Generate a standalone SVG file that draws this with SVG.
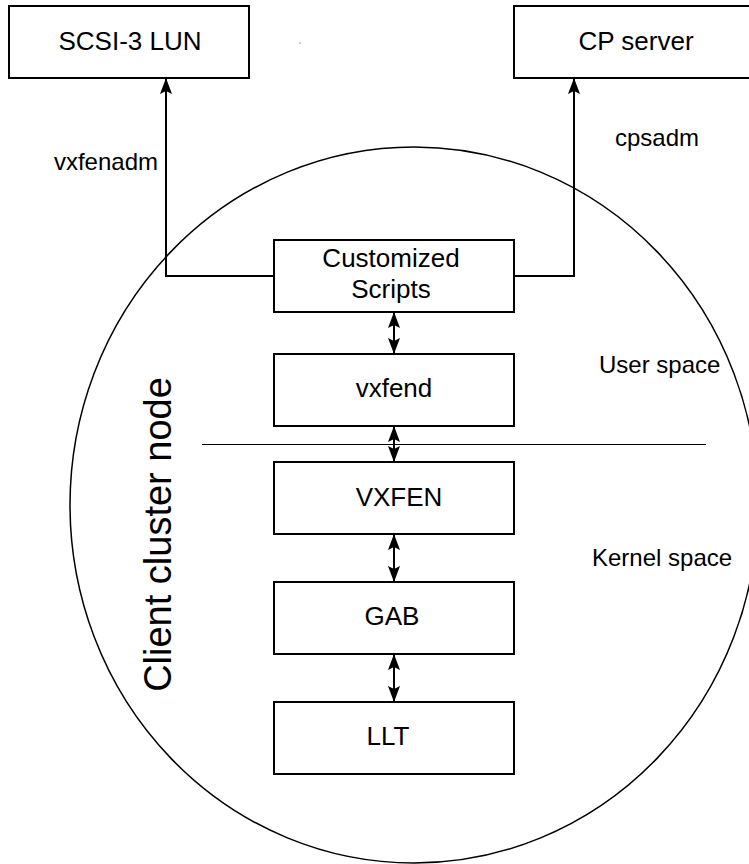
<svg xmlns="http://www.w3.org/2000/svg" width="749" height="864" viewBox="0 0 749 864">
<style>
.box{fill:#fff;stroke:#000;stroke-width:2}
.t{font-family:"Liberation Sans",Arial,sans-serif;font-size:26px;fill:#000;text-anchor:middle}
.lbl{font-family:"Liberation Sans",Arial,sans-serif;font-size:24px;fill:#000}
.big{font-family:"Liberation Sans",Arial,sans-serif;font-size:38px;fill:#000;text-anchor:middle}
.conn{fill:none;stroke:#000;stroke-width:2}
</style>
<defs>
<marker id="ah" viewBox="0 0 16 12" refX="16" refY="6" markerWidth="16" markerHeight="12" markerUnits="userSpaceOnUse" orient="auto-start-reverse">
<path d="M0,0 L16,6 L0,12 L3,6 Z" fill="#000"/>
</marker>
</defs>
<rect width="749" height="864" fill="#fff"/>
<g id="cluster">
<ellipse cx="414" cy="505" rx="344" ry="358" fill="none" stroke="#000" stroke-width="1.5"/>
<line x1="202" y1="444.5" x2="706" y2="444.5" stroke="#000" stroke-width="1"/>
<text class="big" transform="translate(171,534.5) rotate(-90)">Client cluster node</text>
<text class="lbl" x="599" y="373">User space</text>
<text class="lbl" x="592" y="566">Kernel space</text>
</g>
<circle cx="300" cy="43" r="0.8" fill="#888"/>
<g id="connectors">
<path class="conn" d="M274,276 H166 V78" marker-end="url(#ah)"/>
<path class="conn" d="M514,276 H574 V78" marker-end="url(#ah)"/>
<line class="conn" x1="394" y1="312" x2="394" y2="354" marker-start="url(#ah)" marker-end="url(#ah)"/>
<line class="conn" x1="394" y1="426" x2="394" y2="462" marker-start="url(#ah)" marker-end="url(#ah)"/>
<line class="conn" x1="394" y1="534" x2="394" y2="582" marker-start="url(#ah)" marker-end="url(#ah)"/>
<line class="conn" x1="394" y1="654" x2="394" y2="702" marker-start="url(#ah)" marker-end="url(#ah)"/>
<text class="lbl" x="158" y="170" text-anchor="end">vxfenadm</text>
<text class="lbl" x="615" y="146">cpsadm</text>
</g>
<g id="scsi">
<rect class="box" x="9" y="6" width="240" height="72"/>
<text class="t" x="130" y="50">SCSI-3 LUN</text>
</g>
<g id="cpserver">
<rect class="box" x="514" y="6" width="245" height="72"/>
<text class="t" x="636" y="50">CP server</text>
</g>
<g id="scripts">
<rect class="box" x="274" y="240" width="240" height="72"/>
<text class="t" x="391" y="267">Customized</text>
<text class="t" x="391" y="298">Scripts</text>
</g>
<g id="vxfend">
<rect class="box" x="274" y="354" width="240" height="72"/>
<text class="t" x="394" y="397">vxfend</text>
</g>
<g id="vxfen">
<rect class="box" x="274" y="462" width="240" height="72"/>
<text class="t" x="399" y="506">VXFEN</text>
</g>
<g id="gab">
<rect class="box" x="274" y="582" width="240" height="72"/>
<text class="t" x="392" y="625">GAB</text>
</g>
<g id="llt">
<rect class="box" x="274" y="702" width="240" height="72"/>
<text class="t" x="388" y="745">LLT</text>
</g>
</svg>
